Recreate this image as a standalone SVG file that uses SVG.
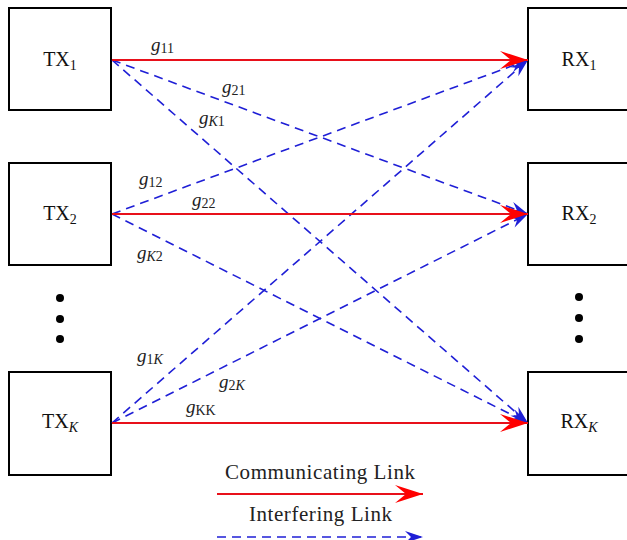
<svg xmlns="http://www.w3.org/2000/svg" width="627" height="540" viewBox="0 0 627 540">
<style>
.box{fill:#fff;stroke:#000;stroke-width:2}
.nl{font-family:"Liberation Serif","DejaVu Serif",serif;font-size:20px;fill:#111;text-anchor:middle}
.sub{font-size:14px}
.it{font-style:italic}
.g{font-family:"Liberation Serif","DejaVu Serif",serif;font-size:19px;font-style:italic;fill:#222}
.gs{font-size:14px;font-style:normal}
.com{stroke:#e8101a;stroke-width:2;fill:none}
.inf{stroke:#1f1fd6;stroke-width:1.6;fill:none;stroke-dasharray:9 6}
.leg{font-family:"Liberation Serif","DejaVu Serif",serif;font-size:21px;fill:#222}
</style>
<defs>
<marker id="ar" markerUnits="userSpaceOnUse" viewBox="-30 -10 32 20" refX="0" refY="0" markerWidth="32" markerHeight="20" orient="auto">
<path d="M0,0 L-28,-9 L-17,0 L-28,9 Z" fill="#f00"/>
</marker>
<marker id="ab" markerUnits="userSpaceOnUse" viewBox="-20 -8 22 16" refX="0" refY="0" markerWidth="22" markerHeight="16" orient="auto">
<path d="M0,0 L-18,-6 L-12,0 L-18,6 Z" fill="#1f1fd6"/>
</marker>
</defs>

<g id="tx1"><rect class="box" x="9" y="8" width="102" height="102"/><text class="nl" x="60" y="66">TX<tspan class="sub" dy="4">1</tspan></text></g>
<g id="tx2"><rect class="box" x="9" y="163" width="102" height="102"/><text class="nl" x="60" y="220">TX<tspan class="sub" dy="4">2</tspan></text></g>
<g id="txk"><rect class="box" x="9" y="372" width="102" height="103"/><text class="nl" x="60" y="428">TX<tspan class="sub it" dy="4">K</tspan></text></g>
<g id="rx1"><rect class="box" x="528" y="8" width="104" height="102"/><text class="nl" x="579" y="66">RX<tspan class="sub" dy="4">1</tspan></text></g>
<g id="rx2"><rect class="box" x="528" y="163" width="104" height="102"/><text class="nl" x="579" y="220">RX<tspan class="sub" dy="4">2</tspan></text></g>
<g id="rxk"><rect class="box" x="528" y="372" width="104" height="103"/><text class="nl" x="579" y="428">RX<tspan class="sub it" dy="4">K</tspan></text></g>

<g id="dots-left" fill="#000"><circle cx="60" cy="298" r="4"/><circle cx="60" cy="319" r="4"/><circle cx="60" cy="339" r="4"/></g>
<g id="dots-right" fill="#000"><circle cx="579" cy="297" r="4"/><circle cx="579" cy="318" r="4"/><circle cx="579" cy="339" r="4"/></g>

<g id="connectors">
<line class="inf" x1="112" y1="60" x2="528" y2="214" marker-end="url(#ab)"/>
<line class="inf" x1="112" y1="60" x2="528" y2="423" marker-end="url(#ab)"/>
<line class="inf" x1="112" y1="214" x2="528" y2="60" marker-end="url(#ab)"/>
<line class="inf" x1="112" y1="214" x2="528" y2="423" marker-end="url(#ab)"/>
<line class="inf" x1="112" y1="423" x2="528" y2="60" marker-end="url(#ab)"/>
<line class="inf" x1="112" y1="423" x2="528" y2="214" marker-end="url(#ab)"/>
<line class="com" x1="112" y1="60" x2="528" y2="60" marker-end="url(#ar)"/>
<line class="com" x1="112" y1="214" x2="528" y2="214" marker-end="url(#ar)"/>
<line class="com" x1="112" y1="423" x2="528" y2="423" marker-end="url(#ar)"/>
</g>

<g id="labels">
<text class="g" x="151" y="51">g<tspan class="gs" dy="2">11</tspan></text>
<text class="g" x="222" y="93">g<tspan class="gs" dy="2">21</tspan></text>
<text class="g" x="199" y="124">g<tspan class="gs" dy="2"><tspan class="it">K</tspan>1</tspan></text>
<text class="g" x="139" y="185">g<tspan class="gs" dy="2">12</tspan></text>
<text class="g" x="192" y="206">g<tspan class="gs" dy="2">22</tspan></text>
<text class="g" x="137" y="259">g<tspan class="gs" dy="2"><tspan class="it">K</tspan>2</tspan></text>
<text class="g" x="137" y="362">g<tspan class="gs" dy="2">1<tspan class="it">K</tspan></tspan></text>
<text class="g" x="219" y="388">g<tspan class="gs" dy="2">2<tspan class="it">K</tspan></tspan></text>
<text class="g" x="186" y="413">g<tspan class="gs it" dy="2">KK</tspan></text>
</g>

<g id="legend">
<text class="leg" x="225" y="479" textLength="190">Communicating Link</text>
<line class="com" x1="217" y1="494" x2="423" y2="494" marker-end="url(#ar)"/>
<text class="leg" x="249" y="521" textLength="143">Interfering Link</text>
<line class="inf" x1="217" y1="537" x2="423" y2="537" marker-end="url(#ab)"/>
</g>
</svg>
